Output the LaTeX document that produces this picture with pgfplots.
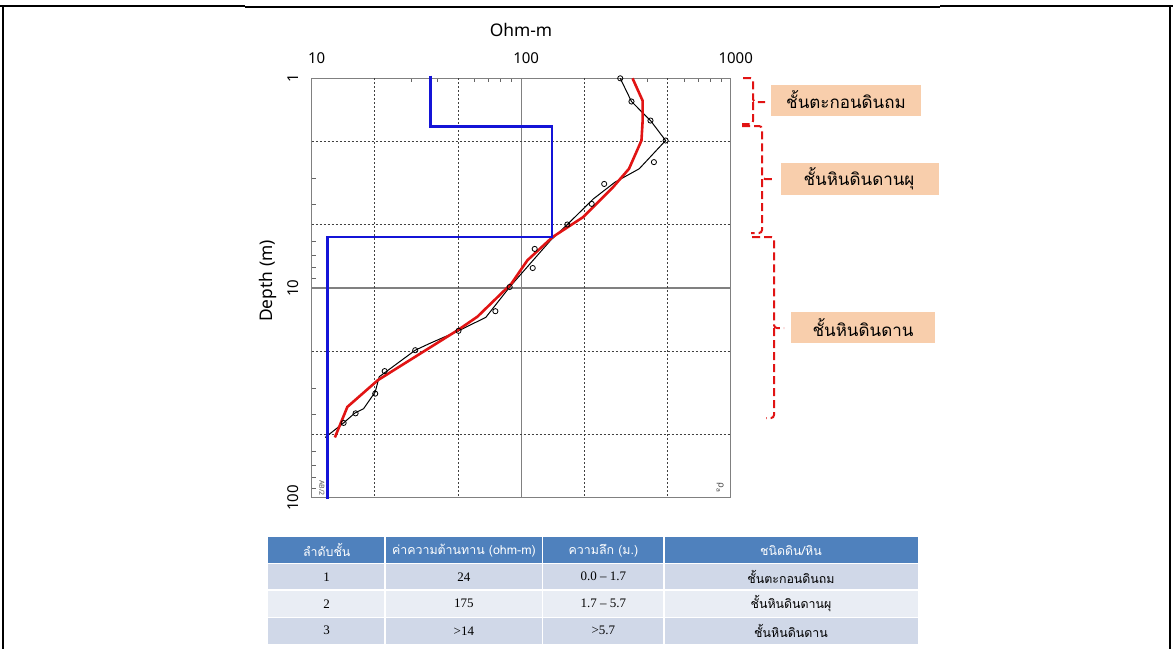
\documentclass[border=0pt]{standalone}
\usepackage{pgfplots}
\pgfplotsset{compat=1.18}
\usepackage{fontspec}
\setmainfont{Noto Sans}
\newfontfamily\thai[Script=Thai]{Loma}
\newfontfamily\tabserif{Liberation Serif}
\newfontfamily\dejavu{DejaVu Sans}
\definecolor{peach}{RGB}{248,206,172}
\definecolor{hdr}{RGB}{79,129,189}
\definecolor{rowA}{RGB}{208,216,232}
\definecolor{rowB}{RGB}{233,237,244}
\definecolor{myblue}{RGB}{20,20,215}
\definecolor{myred}{RGB}{225,20,20}
\begin{document}
\begin{tikzpicture}
\path[use as bounding box] (0,0) rectangle (586.5pt,-324.5pt);
\begin{axis}[
  anchor=center, at={(260.6pt,-144pt)},
  width=209.5pt, height=209.7pt, scale only axis,
  xmode=log, ymode=log, y dir=reverse,
  xmin=10, xmax=1000, ymin=1, ymax=100,
  clip=false,
  axis line style={draw=black!50, line width=0.7pt},
  xtick={10,100,1000}, xticklabels={10,100,1000},
  ytick={1,10,100}, yticklabels={1,10,100},
  minor xtick={30,40,60,70,80,90,300,400,600,700,800,900},
  minor ytick={3,4,6,7,8,9,30,40,60,70,80,90},
  xtick pos=right, ytick pos=left,
  xticklabel pos=right, yticklabel pos=left,
  tick align=inside,
  major tick length=0pt, minor tick length=2pt,
  minor tick style={black!60, line width=0.5pt},
  grid=major,
  major grid style={solid, black!50, line width=0.6pt},
  extra x ticks={20,50,200,500},
  extra y ticks={2,5,20,50},
  extra tick style={grid=major, major grid style={black!75, line width=0.5pt, dash pattern=on 1pt off 1pt}, major tick length=0pt, xticklabel={}, yticklabel={}},
  xticklabel style={font=\fontsize{7.5}{9}\selectfont, anchor=south, inner sep=0pt, inner ysep=6.9pt, xshift=2.5pt},
  yticklabel style={font=\fontsize{7.5}{9}\selectfont, rotate=90, anchor=south, inner sep=0pt, inner ysep=6.4pt},
]
\addplot[black, line width=0.5pt] coordinates {
(297,1.0)(336,1.29)(414,1.59)(489,1.98)(366,2.70)(280,3.13)(221,3.76)(166,4.98)(138,5.93)
(88.1,9.89)(67.8,13.8)(50.2,16.0)(36.5,18.4)(31.2,19.8)(21.0,26.5)(20.1,31.3)(17.7,37.6)
(16.0,39.6)(14.2,44.0)(11.6,51.6)};
\addplot[only marks, mark=o, mark size=1.3pt, mark options={black, line width=0.4pt, fill=white}] coordinates {
(297,1.0)(336,1.29)(414,1.59)(489,1.98)(430,2.51)(249,3.19)(217,3.97)(166,4.98)(116,6.51)
(113.5,8.03)(88.1,9.89)(75.3,12.9)(50.2,16.0)(31.2,19.8)(22.3,24.9)(20.1,31.9)(16.2,39.6)(14.2,44.0)};
\addplot[myred, line width=1.3pt] coordinates {
(340,1.0)(380,1.28)(380,1.59)(375,1.98)(327,2.70)(274,3.31)(197,4.60)(141,5.72)(107,7.38)
(89.8,9.53)(61.8,13.7)(50.2,15.8)(20.7,27.5)(14.8,36.9)(12.9,51.6)};
\addplot[myblue, line width=1.3pt] coordinates {
(36.9,0.97)(36.9,1.7)(140,1.7)(140,5.7)(11.9,5.7)(11.9,101.5)};
\end{axis}
\begin{scope}[x=0.5pt,y=-0.5pt]
% frame
\draw[line width=1.2pt] (0,6) -- (245,6);
\draw[line width=0.6pt] (245,7) -- (940,7);
\draw[line width=1.2pt] (940,6) -- (1173,6);
\draw[line width=1pt] (3,6) -- (3,649);
\draw[line width=1pt] (1170,6) -- (1170,649);
% axis titles
\node[font=\fontsize{8.7}{10}\selectfont] at (521,30) {Ohm-m};
\node[font=\fontsize{8.7}{10}\selectfont, rotate=90] at (268,281) {Depth (m)};
\node[font=\fontsize{3.5}{4}\selectfont, rotate=-90, text=black!70] at (322,488) {AB/2};
\node[font=\dejavu\fontsize{4.5}{5}\selectfont, rotate=-90, text=black!70] at (720,488) {ρ\textsubscript{a}};
% braces
\begin{scope}[draw=myred, line width=1pt, dash pattern=on 4pt off 2pt, rounded corners=1.5pt]
\draw (743,78) -| (753,102) -- (765,102);
\draw (753,102) |- (742,124);
\draw (742,126) -| (762,179) -- (773,179);
\draw (762,179) |- (751,233);
\draw (752,237) -| (774,328) -- (784,328);
\draw (774,328) |- (766,418);
\end{scope}
% boxes
\fill[peach] (771,85) rectangle (921,116);
\fill[peach] (781,163) rectangle (939,195);
\fill[peach] (791,312) rectangle (935,343);
\node[font=\thai\fontsize{8.5}{10}\selectfont] at (846,100) {ชั้นตะกอนดินถม};
\node[font=\thai\fontsize{8.5}{10}\selectfont] at (859,179) {ชั้นหินดินดานผุ};
\node[font=\thai\fontsize{8.5}{10}\selectfont] at (863,328) {ชั้นหินดินดาน};
% table
\fill[hdr] (268.3,537.3) rectangle (918,563.3);
\fill[rowA] (268.3,563.3) rectangle (918,590);
\fill[rowB] (268.3,590) rectangle (918,617.3);
\fill[rowA] (268.3,617.3) rectangle (918,644);
\draw[white, line width=0.6pt] (268.3,563.3) -- (918,563.3) (268.3,590) -- (918,590) (268.3,617.3) -- (918,617.3);
\draw[white, line width=0.6pt] (385,537.3) -- (385,644) (542.7,537.3) -- (542.7,644) (664,537.3) -- (664,644);
\begin{scope}[every node/.style={font=\thai\fontsize{6.2}{7}\selectfont}]
\node[text=white] at (326.7,550.3) {ลำดับชั้น};
\node[text=white] at (463.9,550.3) {ค่าความต้านทาน (ohm-m)};
\node[text=white] at (603.4,550.3) {ความลึก (ม.)};
\node[text=white] at (791,550.3) {ชนิดดิน/หิน};
\node at (791,576.7) {ชั้นตะกอนดินถม};
\node at (791,603.7) {ชั้นหินดินดานผุ};
\node at (791,630.7) {ชั้นหินดินดาน};
\end{scope}
\begin{scope}[every node/.style={font=\tabserif\fontsize{6.5}{7}\selectfont}]
\node at (326.7,576.7) {1};
\node at (326.7,603.7) {2};
\node at (326.7,630.7) {3};
\node at (463.9,576.7) {24};
\node at (463.9,603.7) {175};
\node at (463.9,630.7) {>14};
\node at (603.4,576.7) {0.0 – 1.7};
\node at (603.4,603.7) {1.7 – 5.7};
\node at (603.4,630.7) {>5.7};
\end{scope}
\end{scope}
\end{tikzpicture}
\end{document}
